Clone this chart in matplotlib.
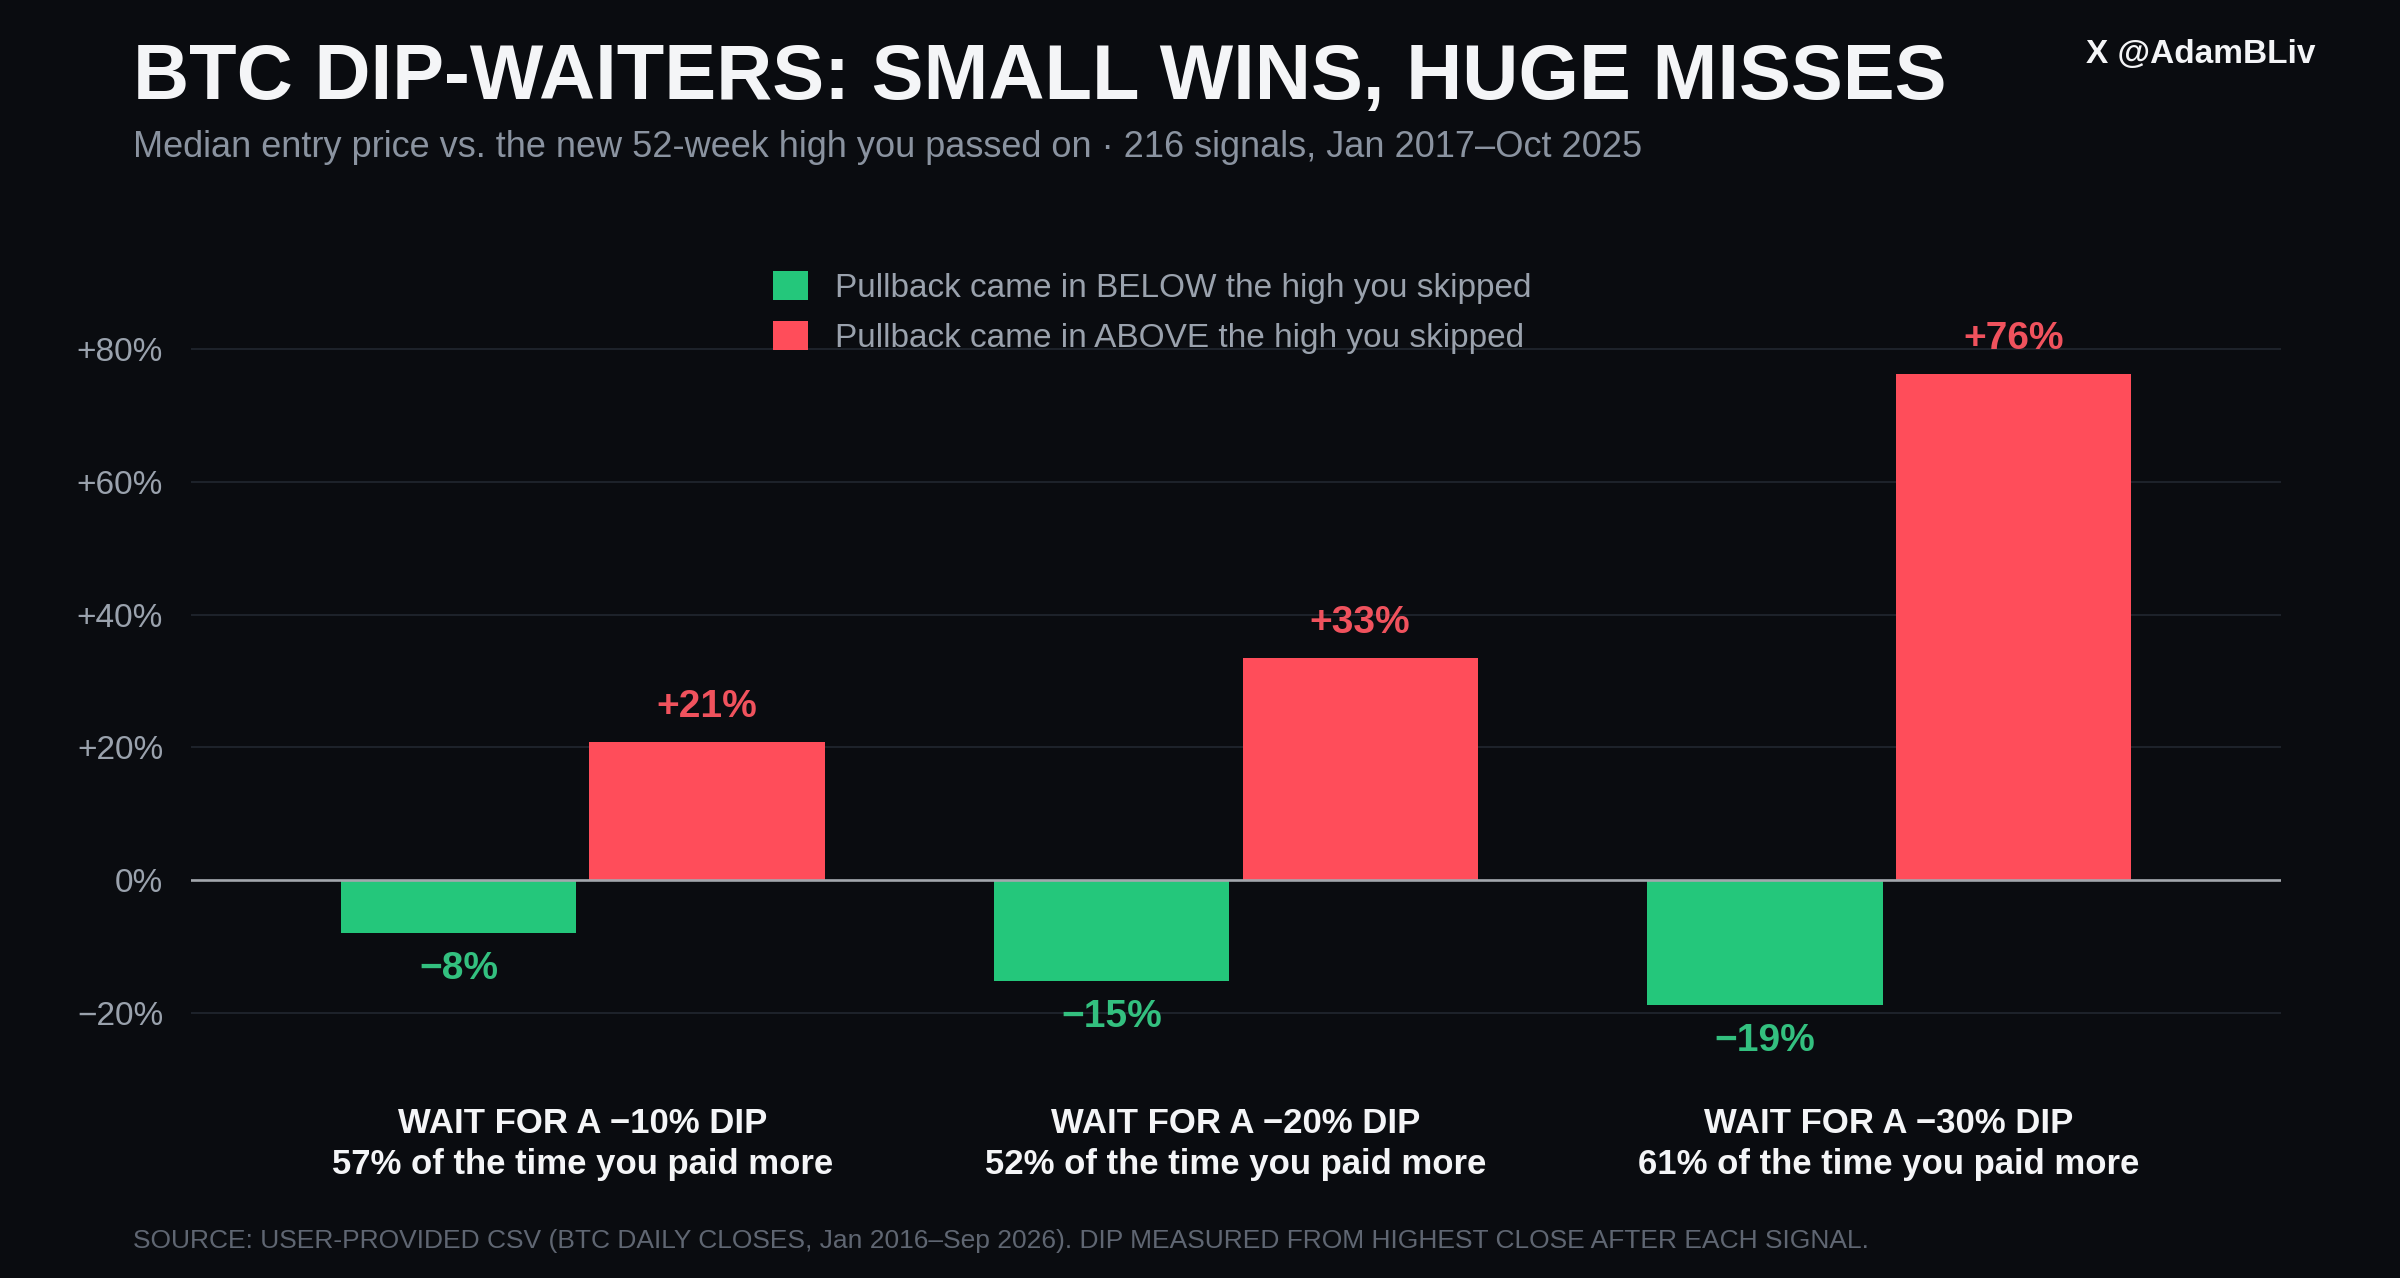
import numpy as np
import matplotlib
matplotlib.use("Agg")
import matplotlib.pyplot as plt
from matplotlib.transforms import blended_transform_factory

plt.rcParams['font.family'] = ['Liberation Sans', 'DejaVu Sans']

# ---------------- data ----------------
dip_labels = ["WAIT FOR A \u221210% DIP", "WAIT FOR A \u221220% DIP", "WAIT FOR A \u221230% DIP"]
paid_more_labels = ["57% of the time you paid more", "52% of the time you paid more",
                    "61% of the time you paid more"]
below_vals = [-8.0, -15.2, -18.9]   # median entry vs skipped high, when pullback came in below
above_vals = [20.8, 33.4, 76.3]     # median entry vs skipped high, when pullback came in above
series_names = ["Pullback came in BELOW the high you skipped",
                "Pullback came in ABOVE the high you skipped"]
y_ticks = [-20, 0, 20, 40, 60, 80]
y_tick_labels = ["\u221220%", "0%", "+20%", "+40%", "+60%", "+80%"]

title = "BTC DIP-WAITERS: SMALL WINS, HUGE MISSES"
subtitle = "Median entry price vs. the new 52-week high you passed on \u00b7 216 signals, Jan 2017\u2013Oct 2025"
handle = "X @AdamBLiv"
source = ("SOURCE: USER-PROVIDED CSV (BTC DAILY CLOSES, Jan 2016\u2013Sep 2026). "
          "DIP MEASURED FROM HIGHEST CLOSE AFTER EACH SIGNAL.")

# ---------------- style ----------------
BG = "#0a0c10"
GREEN = "#24c77b"
RED = "#ff4d5a"
GREEN_TXT = "#33c07f"
RED_TXT = "#f0525d"
GRID = "#1e232b"
TICK = "#9aa2ad"
SUB = "#8a93a0"
SRC = "#5f6672"
WHITE = "#f4f5f7"

W, H = 2400, 1278
fig = plt.figure(figsize=(W / 100, H / 100), dpi=100, facecolor=BG)

def fx(px):
    return px / W

def fy(py):
    return 1 - py / H

ax_left, ax_right, ax_top, ax_bot = 191, 2281, 296, 1079
ax = fig.add_axes([fx(ax_left), fy(ax_bot), (ax_right - ax_left) / W, (ax_bot - ax_top) / H])
ax.set_facecolor(BG)
for s in ax.spines.values():
    s.set_visible(False)

x = np.arange(len(dip_labels))
bw = 0.36
off = 0.19
b1 = ax.bar(x - off, below_vals, bw, color=GREEN, zorder=2, label=series_names[0])
b2 = ax.bar(x + off, above_vals, bw, color=RED, zorder=2, label=series_names[1])

ax.set_xlim(-0.6, 2.6)
ax.set_ylim(-30, 88)
ax.set_yticks(y_ticks)
ax.set_yticklabels(y_tick_labels)
ax.tick_params(axis='y', length=0, pad=20, labelsize=24, labelcolor=TICK)
ax.set_xticks([])
ax.grid(axis='y', color=GRID, linewidth=1.4, zorder=0)
ax.set_axisbelow(True)
ax.axhline(0, color="#a3a7ad", linewidth=1.9, zorder=3)

for xi, v in zip(x - off, below_vals):
    ax.annotate(f"\u2212{abs(v):.0f}%", (xi, v), xytext=(0, -33), textcoords='offset points',
                ha='center', va='baseline', fontsize=28, fontweight='bold', color=GREEN_TXT)
for xi, v in zip(x + off, above_vals):
    ax.annotate(f"+{v:.0f}%", (xi, v), xytext=(0, 18), textcoords='offset points',
                ha='center', va='baseline', fontsize=28, fontweight='bold', color=RED_TXT)

tr = blended_transform_factory(ax.transData, fig.transFigure)
for xi, l1, l2 in zip(x, dip_labels, paid_more_labels):
    ax.text(xi, fy(1133), l1, transform=tr, ha='center', va='baseline',
            fontsize=25, fontweight='bold', color=WHITE)
    ax.text(xi, fy(1174), l2, transform=tr, ha='center', va='baseline',
            fontsize=25, fontweight='bold', color=WHITE)

leg = ax.legend(handles=[b1, b2], loc='upper left',
                bbox_to_anchor=(fx(773), fy(271)), bbox_transform=fig.transFigure,
                frameon=False, fontsize=24, labelcolor=TICK, borderpad=0, borderaxespad=0,
                handlelength=1.05, handleheight=0.96, handletextpad=0.8, labelspacing=0.52)

fig.text(fx(133), fy(99), title, fontsize=56, fontweight='bold', color=WHITE, va='baseline')
fig.text(fx(133), fy(157), subtitle, fontsize=26, color=SUB, va='baseline')
fig.text(fx(2316), fy(63), handle, fontsize=24, fontweight='bold', color=WHITE,
         ha='right', va='baseline')
fig.text(fx(133), fy(1248), source, fontsize=19, color=SRC, va='baseline')

fig.savefig("out.png", dpi=100, facecolor=BG)
